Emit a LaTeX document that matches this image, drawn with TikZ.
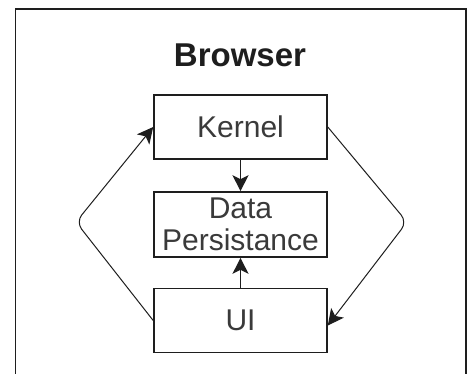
\documentclass[tikz,border=0pt]{standalone}
\usepackage{fontspec}
\setmainfont{Liberation Sans}
\usetikzlibrary{arrows.meta}
\definecolor{ink}{HTML}{1E1E1E}
\definecolor{txt}{HTML}{3A3A3A}
\begin{document}
\begin{tikzpicture}[x=1pt,y=-1pt,
  block/.style={draw=ink, line width=1.6pt, minimum width=173pt, minimum height=64pt,
    inner sep=0pt, align=center, text=txt, font=\fontsize{30}{32}\selectfont},
  link/.style={draw=ink, line width=1.4pt, -{Stealth[length=16pt,width=16pt,inset=4pt]}},
  elbow/.style={link, line width=1pt, rounded corners=9pt}]
  \useasboundingbox (0,0) rectangle (474,373);
  \clip (0,0) rectangle (474,373);
  \fill[white] (0,0) rectangle (474,373);
  % outer frame
  \draw[ink, line width=1.5pt] (15.5,9) rectangle (466,400);
  \node[font=\bfseries\fontsize{33}{36}\selectfont, text=ink] (title) at (240,55) {Browser};
  \node[block] (kernel) at (240.5,127) {Kernel};
  \node[block, minimum height=65pt] (data) at (240.5,224.5) {Data\\Persistance};
  \node[block] (ui) at (240.5,320.5) {UI};
  \coordinate (lb) at (76,222);
  \coordinate (rb) at (407,222);
  \draw[link] (kernel.south) -- (data.north);
  \draw[link] (ui.north) -- (data.south);
  \draw[elbow] (ui.west) -- (lb) -- (kernel.west);
  \draw[elbow] (kernel.east) -- (rb) -- ([yshift=-5pt]ui.east);
\end{tikzpicture}
\end{document}
